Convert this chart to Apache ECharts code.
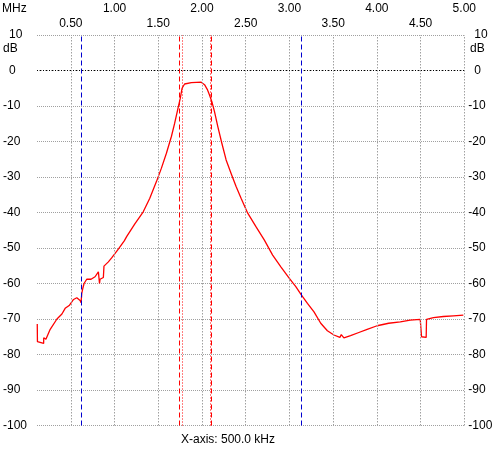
<!DOCTYPE html>
<html>
<head>
    <meta http-equiv="Content-type" content="text/html; charset=utf-8" />
    <title></title>
    <script src="https://cdn.jsdelivr.net/npm/echarts@6/dist/echarts.min.js"></script>
    <style>
    html, body { margin: 0; padding: 0; background: #fff; }
    #main { width: 501px; height: 460px; }
    </style>
</head>
<body>
<div id="main"></div>
<script type="text/javascript">
// frequency (MHz) and level (dB)
var freq = [0.116, 0.118, 0.136, 0.189, 0.190, 0.215, 0.264, 0.341, 0.398, 0.435,
    0.485, 0.531, 0.568, 0.588, 0.606, 0.617, 0.625, 0.637, 0.651, 0.682,
    0.731, 0.777, 0.815, 0.827, 0.828, 0.834, 0.872, 0.879, 0.929, 0.967,
    1.043, 1.111, 1.138, 1.232, 1.328, 1.403, 1.479, 1.536, 1.593, 1.650,
    1.687, 1.726, 1.752, 1.772, 1.801, 1.878, 1.991, 2.029, 2.060, 2.086,
    2.113, 2.143, 2.181, 2.227, 2.276, 2.333, 2.390, 2.447, 2.523, 2.617,
    2.712, 2.808, 2.902, 2.997, 3.073, 3.130, 3.206, 3.281, 3.358, 3.434,
    3.509, 3.577, 3.593, 3.623, 3.699, 3.794, 3.889, 4.003, 4.135, 4.268,
    4.382, 4.496, 4.507, 4.511, 4.564, 4.568, 4.647, 4.761, 4.875, 4.989];
var level = [-71.4, -76.4, -76.9, -76.9, -75.3, -75.7, -72.9, -70.0, -68.6, -67.0,
    -66.1, -64.5, -64.0, -64.5, -64.8, -65.4, -62.8, -61.4, -60.0, -58.8,
    -58.8, -58.1, -56.7, -56.5, -60.0, -58.8, -58.3, -55.1, -53.9, -52.8,
    -50.3, -48.0, -46.8, -43.2, -39.8, -36.0, -31.3, -27.5, -23.3, -18.6,
    -14.9, -10.6, -7.8, -5.0, -3.8, -3.4, -3.3, -4.0, -5.3, -6.9,
    -8.8, -11.6, -15.8, -20.5, -25.2, -29.0, -32.7, -36.0, -40.2, -44.0,
    -47.7, -52.0, -55.3, -58.5, -60.9, -63.0, -65.6, -68.0, -71.2, -73.3,
    -74.5, -75.2, -74.4, -75.3, -74.7, -73.8, -72.9, -71.9, -71.2, -70.8,
    -70.3, -70.1, -70.1, -75.0, -75.2, -70.1, -69.6, -69.3, -69.1, -68.9];

var xGrid = [0.5, 1.0, 1.5, 2.0, 2.5, 3.0, 3.5, 4.0, 4.5, 5.0];
var xLabelsLow = [0.5, 1.5, 2.5, 3.5, 4.5];
var xLabelsHigh = [1.0, 2.0, 3.0, 4.0, 5.0];
var blueMarkers = [0.617, 3.142];
var redDashed = [1.735, 2.113];
var redDotted = [1.767, 2.090];

var points = [];
for (var i = 0; i < freq.length; i++) {
    points.push([freq[i], level[i]]);
}

var gridGray = '#a0a0a0';
var gridLines = [];
xGrid.forEach(function (v) {
    gridLines.push({ xAxis: v, lineStyle: { color: gridGray, type: [1.5, 1.5], width: 1 } });
});
gridLines.push({ yAxis: 0, lineStyle: { color: '#000', type: [1, 2], width: 1 } });

var markers = [];
blueMarkers.forEach(function (v) {
    markers.push({ xAxis: v, lineStyle: { color: '#0000d0', type: [5, 3], width: 1 } });
});
redDashed.forEach(function (v) {
    markers.push({ xAxis: v, lineStyle: { color: '#ff0000', type: [5, 3], width: 1 } });
});
redDotted.forEach(function (v) {
    markers.push({ xAxis: v, lineStyle: { color: '#ff0000', type: [1, 2], width: 1 } });
});

function yLabel(v) {
    return v < 0 ? '{n|' + v + '}' : '{p|' + v + '}';
}

var txt = { fontFamily: 'Liberation Sans', fontSize: 12, color: '#000' };

var myChart = echarts.init(document.getElementById('main'));
myChart.setOption({
    backgroundColor: '#fff',
    animation: false,
    grid: { left: 35, right: 36.7, top: 35, bottom: 34.5 },
    xAxis: [{
        type: 'value', min: 0.113, max: 5.0, position: 'top',
        axisLine: { show: false }, axisTick: { show: false }, splitLine: { show: false },
        axisLabel: Object.assign({ customValues: xLabelsLow, margin: 5,
            formatter: function (v) { return v.toFixed(2); } }, txt)
    }, {
        type: 'value', min: 0.113, max: 5.0, position: 'top',
        axisLine: { show: false }, axisTick: { show: false }, splitLine: { show: false },
        axisLabel: Object.assign({ customValues: xLabelsHigh, margin: 20,
            formatter: function (v) { return v.toFixed(2); } }, txt)
    }],
    yAxis: [{
        type: 'value', min: -100, max: 10, interval: 10, position: 'left',
        axisLine: { show: false }, axisTick: { show: false },
        splitLine: { show: true, showMinLine: true, showMaxLine: true,
            lineStyle: { color: gridGray, type: 'dotted', width: 1 } },
        axisLabel: Object.assign({ align: 'left', margin: 34, formatter: yLabel,
            rich: { n: txt, p: Object.assign({ padding: [0, 0, 0, 6] }, txt) } }, txt)
    }, {
        type: 'value', min: -100, max: 10, interval: 10, position: 'right',
        axisLine: { show: false }, axisTick: { show: false }, splitLine: { show: false },
        axisLabel: Object.assign({ align: 'left', margin: 4, formatter: yLabel,
            rich: { n: txt, p: Object.assign({ padding: [0, 0, 0, 6] }, txt) } }, txt)
    }],
    graphic: [
        { type: 'text', left: 2, top: 3, style: { text: 'MHz', fill: '#000', font: '12px "Liberation Sans"' } },
        { type: 'text', left: 3, top: 43, style: { text: 'dB', fill: '#000', font: '12px "Liberation Sans"' } },
        { type: 'text', left: 470, top: 43, style: { text: 'dB', fill: '#000', font: '12px "Liberation Sans"' } },
        { type: 'text', left: 181, top: 434, style: { text: 'X-axis: 500.0 kHz', fill: '#000', font: '12px "Liberation Sans"' } }
    ],
    series: [{
        type: 'line', data: [], z: 1, silent: true,
        markLine: { symbol: ['none', 'none'], silent: true, label: { show: false },
            animation: false, data: gridLines }
    }, {
        type: 'line', data: [], z: 2, silent: true,
        markLine: { symbol: ['none', 'none'], silent: true, label: { show: false },
            animation: false, data: markers }
    }, {
        type: 'line', data: points, z: 3, showSymbol: false, symbol: 'none',
        lineStyle: { color: '#ff0000', width: 1.3 }
    }]
});
</script>
</body>
</html>
